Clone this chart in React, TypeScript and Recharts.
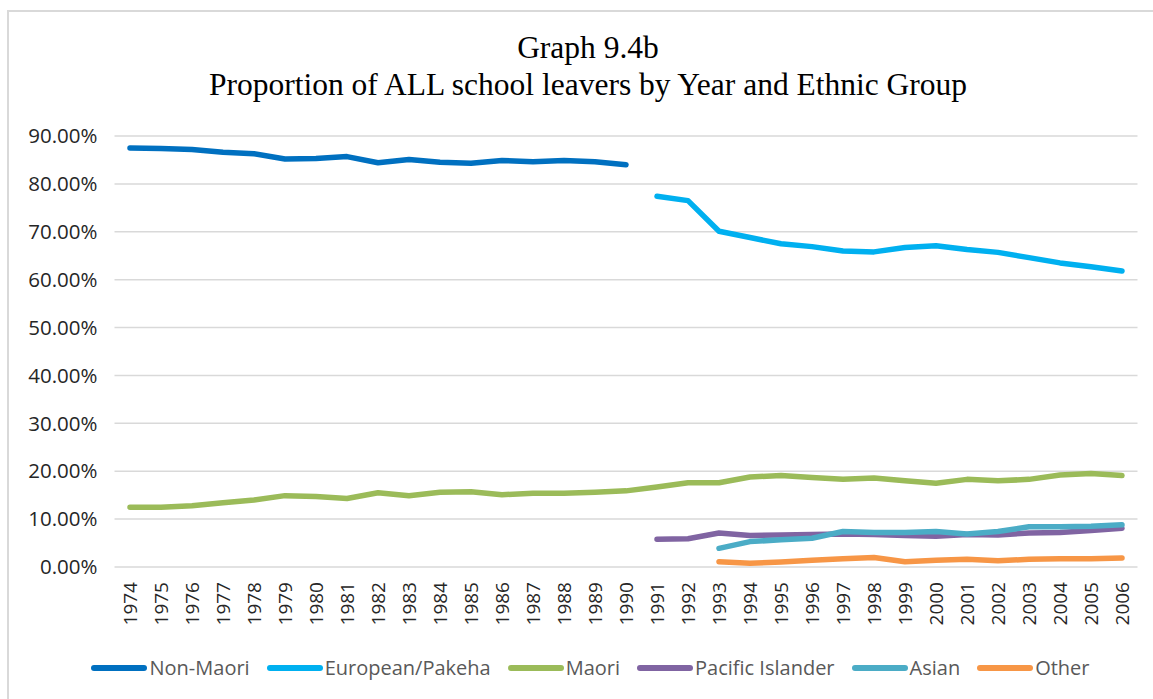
import React from "react";
import { CartesianGrid, Legend, Line, LineChart, XAxis, YAxis } from "recharts";

const YEARS = [
  "1974", "1975", "1976", "1977", "1978", "1979", "1980", "1981", "1982", "1983", "1984",
  "1985", "1986", "1987", "1988", "1989", "1990", "1991", "1992", "1993", "1994", "1995",
  "1996", "1997", "1998", "1999", "2000", "2001", "2002", "2003", "2004", "2005", "2006",
];

const NON_MAORI = [
  87.5, 87.4, 87.2, 86.6, 86.3, 85.2, 85.3, 85.7, 84.4, 85.1, 84.5, 84.3, 84.9, 84.6, 84.9, 84.6, 84.0,
  null, null, null, null, null, null, null, null, null, null, null, null, null, null, null, null,
];
const EUROPEAN = [
  null, null, null, null, null, null, null, null, null, null, null, null, null, null, null, null, null,
  77.4, 76.5, 70.1, 68.8, 67.5, 66.9, 66.0, 65.8, 66.7, 67.1, 66.3, 65.7, 64.6, 63.5, 62.7, 61.8,
];
const MAORI = [
  12.5, 12.5, 12.8, 13.4, 14.0, 14.9, 14.7, 14.3, 15.5, 14.9, 15.6, 15.7, 15.1, 15.4, 15.4, 15.6, 15.9,
  16.7, 17.6, 17.6, 18.8, 19.1, 18.7, 18.3, 18.6, 18.0, 17.5, 18.3, 18.0, 18.3, 19.2, 19.5, 19.1,
];
const PACIFIC = [
  null, null, null, null, null, null, null, null, null, null, null, null, null, null, null, null, null,
  5.8, 5.9, 7.1, 6.6, 6.7, 6.8, 6.9, 6.8, 6.6, 6.4, 6.8, 6.7, 7.1, 7.2, 7.6, 8.1,
];
const ASIAN = [
  null, null, null, null, null, null, null, null, null, null, null, null, null, null, null, null, null,
  null, null, 3.9, 5.3, 5.7, 6.0, 7.4, 7.2, 7.2, 7.4, 6.9, 7.4, 8.4, 8.4, 8.5, 8.8,
];
const OTHER = [
  null, null, null, null, null, null, null, null, null, null, null, null, null, null, null, null, null,
  null, null, 1.1, 0.8, 1.05, 1.4, 1.7, 2.0, 1.1, 1.4, 1.6, 1.3, 1.6, 1.7, 1.7, 1.9,
];

const Y_TICKS = [0, 10, 20, 30, 40, 50, 60, 70, 80, 90];

const data = YEARS.map((year, i) => ({
  year,
  nonMaori: NON_MAORI[i],
  european: EUROPEAN[i],
  maori: MAORI[i],
  pacific: PACIFIC[i],
  asian: ASIAN[i],
  other: OTHER[i],
}));

const SERIES = [
  { key: "nonMaori", name: "Non-Maori", color: "#0070C0" },
  { key: "european", name: "European/Pakeha", color: "#00B0F0" },
  { key: "maori", name: "Maori", color: "#9BBB59" },
  { key: "pacific", name: "Pacific Islander", color: "#8064A2" },
  { key: "asian", name: "Asian", color: "#4BACC6" },
  { key: "other", name: "Other", color: "#F79646" },
];

const SANS = "'Open Sans', 'Noto Sans', sans-serif";

const YearTick = (props: any) => {
  const { x, y, payload } = props;
  return (
    <text
      x={x}
      y={y}
      transform={`rotate(-90 ${x} ${y})`}
      textAnchor="end"
      dy="0.36em"
      fontSize={19}
      fontFamily={SANS}
      fill="#262626"
    >
      {payload.value}
    </text>
  );
};

// keep the legend in series order (recharts sorts it by name otherwise)
const LegendRow = (props: any) => {
  const order = SERIES.map((s) => s.name);
  const items = [...(props.payload || [])].sort((a: any, b: any) => order.indexOf(a.value) - order.indexOf(b.value));
  return (
    <div style={{ display: "flex", justifyContent: "center", alignItems: "center", fontFamily: SANS }}>
      {items.map((it: any, i: number) => (
        <div key={it.value} style={{ display: "flex", alignItems: "center", marginLeft: i === 0 ? 0 : 17 }}>
          <svg width={56} height={10}>
            <line x1={3} y1={5} x2={53} y2={5} stroke={it.color} strokeWidth={6} strokeLinecap="round" />
          </svg>
          <span style={{ fontSize: 20, color: "#595959", marginLeft: 2 }}>{it.value}</span>
        </div>
      ))}
    </div>
  );
};

export default function App() {
  return (
    <div style={{ position: "absolute", left: 0, top: 0, width: 1153, height: 699, overflow: "hidden", background: "#fff" }}>
      <div
        style={{
          position: "absolute",
          left: 7,
          top: 10,
          width: 1200,
          height: 720,
          borderTop: "2px solid #d9d9d9",
          borderLeft: "2px solid #d9d9d9",
        }}
      />
      <div
        style={{
          position: "absolute",
          left: 0,
          top: 29,
          width: 1176,
          textAlign: "center",
          fontFamily: "'Liberation Serif', 'Times New Roman', serif",
          fontSize: 31.5,
          lineHeight: "37px",
          color: "#000",
        }}
      >
        <div>Graph 9.4b</div>
        <div>Proportion of ALL school leavers by Year and Ethnic Group</div>
      </div>
      <div style={{ position: "absolute", left: 0, top: 0 }}>
        <LineChart width={1153} height={699} data={data} margin={{ top: 136, right: 15.5, bottom: 62, left: 0 }}>
          <CartesianGrid horizontal vertical={false} stroke="#d9d9d9" strokeWidth={1.5} />
          <XAxis
            dataKey="year"
            interval={0}
            axisLine={false}
            tickLine={false}
            tickSize={0}
            tickMargin={15}
            height={70}
            padding={{ left: 15.5, right: 15.5 }}
            tick={<YearTick />}
          />
          <YAxis
            width={114.5}
            domain={[0, 90]}
            ticks={Y_TICKS}
            interval={0}
            axisLine={false}
            tickLine={false}
            tickSize={0}
            tickMargin={17}
            tickFormatter={(v: number) => `${v.toFixed(2)}%`}
            tick={{ fontSize: 20.5, fontFamily: SANS, fill: "#262626" }}
          />
          {SERIES.map((s) => (
            <Line
              key={s.key}
              dataKey={s.key}
              name={s.name}
              stroke={s.color}
              strokeWidth={5.5}
              strokeLinecap="round"
              strokeLinejoin="round"
              dot={false}
              activeDot={false}
              isAnimationActive={false}
            />
          ))}
          <Legend
            align="center"
            verticalAlign="middle"
            content={<LegendRow />}
            wrapperStyle={{ top: 654, left: 14, width: 1153 }}
          />
        </LineChart>
      </div>
    </div>
  );
}
